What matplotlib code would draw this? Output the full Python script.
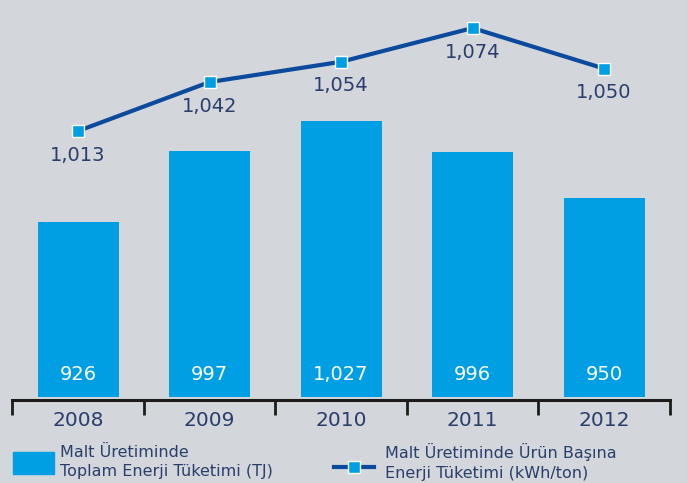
import matplotlib
matplotlib.use("Agg")
import matplotlib.pyplot as plt
from matplotlib.patches import Rectangle
from matplotlib.lines import Line2D

years = ["2008", "2009", "2010", "2011", "2012"]
total_energy_tj = [926, 997, 1027, 996, 950]
energy_per_ton = [1013, 1042, 1054, 1074, 1050]
energy_per_ton_labels = ["1,013", "1,042", "1,054", "1,074", "1,050"]
bar_labels = ["926", "997", "1,027", "996", "950"]
legend_bar = "Malt Üretiminde\nToplam Enerji Tüketimi (TJ)"
legend_line = "Malt Üretiminde Ürün Başına\nEnerji Tüketimi (kWh/ton)"

BG = "#d3d7db"
BAR = "#009fe3"
LINE = "#0b4a9d"
NAVY = "#2a3d6b"
FONT = ["DejaVu Sans"]
plt.rcParams["font.family"] = FONT

W, H = 687, 483
fig = plt.figure(figsize=(W / 100, H / 100), dpi=100)
fig.patch.set_facecolor(BG)

def fx(px):
    return px / W

def fy(py):
    return 1 - py / H

bottom_px = 397
ax = fig.add_axes([0, fy(bottom_px), 1, bottom_px / H])
ax.set_facecolor("none")
x = list(range(len(years)))
unit = 131.5
c0 = 78
ax.set_xlim(-c0 / unit, (W - c0) / unit)
ax.set_ylim(751, 751 + bottom_px)

ax.bar(x, total_energy_tj, width=81 / unit, color=BAR, zorder=2)
for xi, lab in zip(x, bar_labels):
    ax.annotate(lab, xy=(xi, 0), xycoords=("data", "axes fraction"),
                xytext=(0, 23), textcoords="offset pixels",
                ha="center", va="center", color="white", fontsize=14)

for s in ["top", "left", "right"]:
    ax.spines[s].set_visible(False)
ax.spines["bottom"].set_position(("outward", 2))
ax.spines["bottom"].set_bounds(-0.5, len(years) - 0.5)
ax.spines["bottom"].set_linewidth(2.2)
ax.spines["bottom"].set_color("#1c1c1c")
ax.set_yticks([])
ax.set_xticks(x)
ax.set_xticklabels(years, fontsize=14.5, color=NAVY)
ax.tick_params(axis="x", which="major", length=0, pad=8)
ax.set_xticks([i - 0.5 for i in range(len(years) + 1)], minor=True)
ax.tick_params(axis="x", which="minor", length=11, width=2, color="#1c1c1c",
               direction="out")

ax2 = ax.twinx()
ax2.set_ylim(855.5, 1090.6)
ax2.set_xlim(ax.get_xlim())
ax2.axis("off")
ax2.plot(x, energy_per_ton, color=LINE, lw=3, marker="s", markersize=8.5,
         markerfacecolor=BAR, markeredgecolor="white", markeredgewidth=1,
         zorder=3, clip_on=False)
for xi, yi, lab in zip(x, energy_per_ton, energy_per_ton_labels):
    ax2.annotate(lab, xy=(xi, yi), xytext=(0, -24), textcoords="offset pixels",
                 ha="center", va="center", color=NAVY, fontsize=14)

# legend
fig.add_artist(Rectangle((fx(13), fy(474)), fx(54) - fx(13), (474 - 452) / H,
                         transform=fig.transFigure, color=BAR))
fig.text(fx(60), fy(462), legend_bar, ha="left", va="center", color=NAVY,
         fontsize=11.5, linespacing=1.38)
fig.add_artist(Line2D([fx(334), fx(374)], [fy(467), fy(467)],
                      transform=fig.transFigure, color=LINE, lw=3))
fig.add_artist(Line2D([fx(354)], [fy(467)], transform=fig.transFigure,
                      marker="s", markersize=8.5, markerfacecolor=BAR,
                      markeredgecolor="white", markeredgewidth=1, lw=0))
fig.text(fx(385), fy(462), legend_line, ha="left", va="center", color=NAVY,
         fontsize=11.5, linespacing=1.38)

fig.savefig("out.png", dpi=100, facecolor=BG)
